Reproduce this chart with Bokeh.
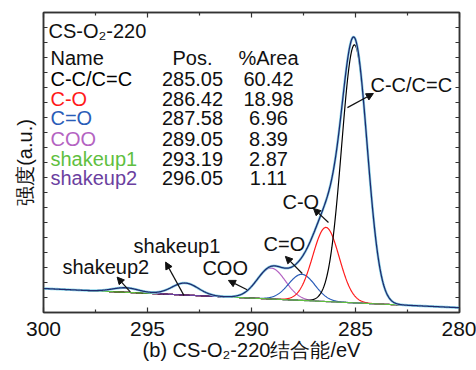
import numpy as np
from bokeh.plotting import figure
from bokeh.models import (Range1d, LinearAxis, Arrow, NormalHead, FixedTicker, ColumnDataSource,
                          CustomJSTickFormatter)
from bokeh.core.properties import value
from bokeh.embed import file_html
from bokeh.resources import INLINE

# ---- data ----
names = ["C-C/C=C", "C-O", "C=O", "COO", "shakeup1", "shakeup2"]
pos = [285.05, 286.42, 287.58, 289.05, 293.19, 296.05]
area = [60.42, 18.98, 6.96, 8.39, 2.87, 1.11]
heights = [86.0, 24.7, 8.7, 10.3, 4.0, 1.5]       # peak heights above background (a.u.)
fwhm = [1.45, 1.5, 1.5, 1.6, 1.5, 1.5]             # eV
colors = ["#000000", "#ff1a1a", "#2a5cb8", "#b463c2", "#5fbf3f", "#6b3fa0"]
bg_ends = [8.0, 1.6]                               # background at 300 eV and 280 eV
x_ticks = [280, 285, 290, 295, 300]
x_minor = [282.5, 287.5, 292.5, 297.5]
y_ticks = list(range(0, 101, 5))

# arrows: (tail E, tail I, head E, head I) and label positions
arrow_tail_x = [285.39, 286.30, 287.56, 290.21, 293.25, 295.82]
arrow_tail_y = [68.3, 30.0, 13.0, 7.6, 5.7, 6.8]
arrow_head_x = [284.14, 287.02, 288.37, 291.11, 294.13, 296.46]
arrow_head_y = [73.0, 34.7, 18.7, 10.7, 16.8, 11.8]
lab_x = [284.28, 288.51, 289.42, 292.36, 295.67, 299.09]
lab_y = [76.0, 36.8, 22.8, 14.8, 22.3, 15.2]

FONT = "Liberation Sans"

E = np.linspace(280, 300, 1001)
bg = bg_ends[1] + (bg_ends[0] - bg_ends[1]) * (E - 280) / 20.0

def comp(c, h, w):
    s = w / 2.3548
    return h * np.exp(-0.5 * ((E - c) / s) ** 2)

comps = [comp(c, h, w) for c, h, w in zip(pos, heights, fwhm)]
envelope = bg + sum(comps)

p = figure(width=476, height=370, x_range=Range1d(300, 280), y_range=Range1d(0, 100),
           output_backend="svg", toolbar_location=None,
           min_border_left=43, min_border_right=17, min_border_top=12, min_border_bottom=58)
p.xgrid.visible = False
p.ygrid.visible = False
p.outline_line_color = "#333333"
p.outline_line_width = 1.5

mask = (E >= 282.8) & (E <= 299.0)
for i in [3, 2, 1, 0, 5, 4]:
    p.line(E[mask], (bg + comps[i])[mask], line_color=colors[i], line_width=1.2)

p.line(E, envelope, line_color="#8fd6ea", line_width=2.6)
p.line(E, envelope, line_color="#1f2b6e", line_width=1.3)

blank = CustomJSTickFormatter(code="return '';")

def style_axis(ax, ticks, minor=None, major_in=5, show_labels=False):
    ax.ticker = FixedTicker(ticks=ticks, minor_ticks=minor or [])
    ax.axis_line_color = "#333333"
    ax.axis_line_width = 1.5
    ax.major_tick_line_color = "#333333"
    ax.minor_tick_line_color = "#333333"
    ax.major_tick_in = major_in
    ax.major_tick_out = 0
    ax.minor_tick_in = 3
    ax.minor_tick_out = 0
    ax.major_tick_line_width = 1.2
    ax.minor_tick_line_width = 1.2
    if not show_labels:
        ax.formatter = blank
        ax.major_label_standoff = 0

style_axis(p.xaxis[0], x_ticks, x_minor, show_labels=True)
p.xaxis.major_label_text_font = FONT
p.xaxis.major_label_text_font_size = "21px"
p.xaxis.major_label_text_color = "#111111"
p.xaxis.major_label_standoff = 9
p.xaxis.axis_label = "(b) CS-O₂-220结合能/eV"
p.xaxis.axis_label_text_font = FONT
p.xaxis.axis_label_text_font_size = "20px"
p.xaxis.axis_label_text_font_style = "normal"
p.xaxis.axis_label_text_color = "#111111"
p.xaxis.axis_label_standoff = 0

style_axis(p.yaxis[0], y_ticks, major_in=4)
p.yaxis.axis_label = "强度(a.u.)"
p.yaxis.axis_label_text_font = FONT
p.yaxis.axis_label_text_font_size = "20px"
p.yaxis.axis_label_text_font_style = "normal"
p.yaxis.axis_label_text_color = "#111111"
p.yaxis.axis_label_standoff = 8

top = LinearAxis()
style_axis(top, x_ticks, x_minor)
p.add_layout(top, "above")
right = LinearAxis()
style_axis(right, y_ticks, major_in=4)
p.add_layout(right, "right")

# table
def e_of(px):
    return 300 - (px - 43) / 20.8

row_y = [78.0, 71.3, 64.7, 58.0, 51.3, 44.7]
p.text(x=[e_of(48)], y=[94.0], text=["CS-O₂-220"], text_font=value(FONT), text_font_size="20px",
       text_baseline="middle", text_align="left", text_color="#111111")
p.text(x=[e_of(50), e_of(192), e_of(268)], y=[85.0] * 3, text=["Name", "Pos.", "%Area"],
       text_font=value(FONT), text_font_size="20px", text_baseline="middle",
       text_align=["left", "center", "center"], text_color="#111111")
src = ColumnDataSource(dict(x=[e_of(50)] * 6, y=row_y, t=names, c=colors))
p.text(x="x", y="y", text="t", text_color="c", source=src, text_font=value(FONT),
       text_font_size="20px", text_baseline="middle", text_align="left")
p.text(x=[e_of(192)] * 6, y=row_y, text=["%.2f" % v for v in pos], text_font=value(FONT),
       text_font_size="20px", text_baseline="middle", text_align="center", text_color="#111111")
p.text(x=[e_of(268)] * 6, y=row_y, text=["%.2f" % v for v in area], text_font=value(FONT),
       text_font_size="20px", text_baseline="middle", text_align="center", text_color="#111111")

# peak labels + arrows
p.text(x=lab_x, y=lab_y, text=names, text_font=value(FONT), text_font_size="20px",
       text_baseline="middle", text_align="left", text_color="#111111")
for i in range(6):
    p.add_layout(Arrow(end=NormalHead(size=7, fill_color="#111111", line_color="#111111"),
                       x_start=arrow_tail_x[i], y_start=arrow_tail_y[i],
                       x_end=arrow_head_x[i], y_end=arrow_head_y[i],
                       line_color="#111111", line_width=1.2))

open("out.html", "w").write(file_html(p, INLINE))
